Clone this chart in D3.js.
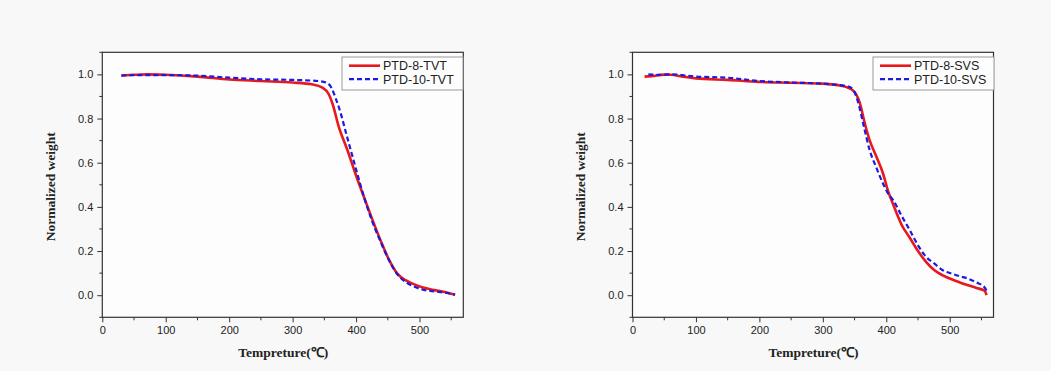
<!DOCTYPE html>
<html><head><meta charset="utf-8">
<script src="https://cdn.jsdelivr.net/npm/d3@7"></script>
<style>
body{margin:0;background:#f8f8f8;}
svg{display:block;}
text{fill:#222;}
</style></head>
<body><svg id="c" width="1051" height="371"></svg>
<script>
// ---- data ----
const xTicks = [0,100,200,300,400,500];
const yTicks = [0.0,0.2,0.4,0.6,0.8,1.0];
const xLabel = "Tempreture(℃)";
const yLabel = "Normalized weight";

const tvt8T = [30,50,70,100,150,200,250,300,330,347,357,363,373,386,399,413,426,439,452,465,478,491,504,517,530,543,556];
const tvt8W = [0.995,0.998,1.0,0.998,0.99,0.977,0.97,0.963,0.955,0.94,0.91,0.866,0.76,0.66,0.55,0.44,0.34,0.245,0.16,0.098,0.068,0.05,0.036,0.027,0.02,0.012,0.002];
const tvt10T = [30,60,100,150,200,250,300,340,355,362,368,373,386,399,413,426,439,452,465,478,491,504,517,530,543,556];
const tvt10W = [0.995,0.997,0.997,0.994,0.985,0.978,0.975,0.97,0.96,0.935,0.89,0.85,0.715,0.58,0.44,0.33,0.24,0.158,0.095,0.06,0.04,0.026,0.02,0.015,0.01,0.003];

const svs8T = [19,30,50,60,80,100,150,200,250,300,330,348,358,366,374,384,395,403,411,424,437,450,463,476,489,503,516,529,542,555,558];
const svs8W = [0.99,0.992,0.999,0.998,0.99,0.982,0.975,0.966,0.962,0.958,0.948,0.926,0.873,0.78,0.70,0.63,0.55,0.47,0.41,0.32,0.26,0.2,0.15,0.113,0.09,0.072,0.058,0.045,0.033,0.02,0.0];
const svs10T = [25,40,60,100,150,200,250,300,340,348,355,365,374,384,395,403,411,424,437,450,463,476,489,503,516,529,542,555,558];
const svs10W = [1.0,0.998,1.0,0.99,0.985,0.97,0.963,0.958,0.945,0.93,0.88,0.76,0.655,0.58,0.505,0.46,0.43,0.36,0.295,0.226,0.173,0.143,0.113,0.098,0.086,0.075,0.058,0.035,0.02];

const panels = [
  {left:102.3, series:[{name:"PTD-8-TVT",t:tvt8T,w:tvt8W,color:"#e8191d",dash:null,width:2.6},
                       {name:"PTD-10-TVT",t:tvt10T,w:tvt10W,color:"#1a1ae0",dash:"5,3",width:2.2}], legX:342},
  {left:632.5, series:[{name:"PTD-8-SVS",t:svs8T,w:svs8W,color:"#e8191d",dash:null,width:2.6},
                       {name:"PTD-10-SVS",t:svs10T,w:svs10W,color:"#1a1ae0",dash:"5,3",width:2.2}], legX:873}
];

const svg = d3.select("#c");
const W = 361, plotTop = 52.3, plotBottom = 317.3;

panels.forEach(p => {
  const x = d3.scaleLinear().domain([0,569]).range([p.left, p.left+W]);
  const y = d3.scaleLinear().domain([-0.1,1.1]).range([plotBottom, plotTop]);
  const g = svg.append("g");
  g.append("rect").attr("x",p.left).attr("y",plotTop).attr("width",W).attr("height",plotBottom-plotTop)
    .attr("fill","#fdfdfd").attr("stroke","#333").attr("stroke-width",1.2);

  // minor ticks
  const xMinor = d3.range(50,569,100);
  g.selectAll(".xm").data(xMinor).join("line")
    .attr("x1",d=>x(d)).attr("x2",d=>x(d)).attr("y1",plotBottom).attr("y2",plotBottom+3)
    .attr("stroke","#333");
  const yMinor = [-0.1,0.1,0.3,0.5,0.7,0.9,1.1];
  g.selectAll(".ym").data(yMinor).join("line")
    .attr("y1",d=>y(d)).attr("y2",d=>y(d)).attr("x1",p.left).attr("x2",p.left-3)
    .attr("stroke","#333");

  const xa = g.append("g").attr("transform",`translate(0,${plotBottom})`)
    .call(d3.axisBottom(x).tickValues(xTicks).tickSize(5).tickPadding(4).tickFormat(d3.format("d")));
  const ya = g.append("g").attr("transform",`translate(${p.left},0)`)
    .call(d3.axisLeft(y).tickValues(yTicks).tickSize(5).tickPadding(4).tickFormat(d3.format(".1f")));
  [xa,ya].forEach(a=>{
    a.select(".domain").remove();
    a.selectAll("line").attr("stroke","#333");
    a.selectAll("text").attr("font-family","Liberation Sans, Arial, sans-serif").attr("font-size",11).attr("fill","#222");
  });

  g.append("text").attr("x",p.left+181).attr("y",357)
    .attr("text-anchor","middle").attr("font-family","Liberation Serif, Times New Roman, serif")
    .attr("font-weight","bold").attr("font-size",13.5).text(xLabel);
  g.append("text").attr("transform",`translate(${p.left-47.5},${(plotTop+plotBottom)/2+2}) rotate(-90)`)
    .attr("text-anchor","middle").attr("font-family","Liberation Serif, Times New Roman, serif")
    .attr("font-weight","bold").attr("font-size",13.5).text(yLabel);

  const line = d3.line().x(d=>x(d[0])).y(d=>y(d[1])).curve(d3.curveMonotoneX);
  p.series.forEach(s => {
    g.append("path").datum(d3.zip(s.t,s.w)).attr("d",line)
      .attr("fill","none").attr("stroke",s.color).attr("stroke-width",s.width)
      .attr("stroke-dasharray",s.dash);
  });

  // legend
  const lg = g.append("g");
  lg.append("rect").attr("x",p.legX).attr("y",57).attr("width",121).attr("height",33)
    .attr("fill","#fdfdfd").attr("stroke","#999").attr("stroke-width",1);
  p.series.forEach((s,i)=>{
    const yy = 65.7 + i*13.5;
    lg.append("line").attr("x1",p.legX+7).attr("x2",p.legX+38).attr("y1",yy).attr("y2",yy)
      .attr("stroke",s.color).attr("stroke-width",s.width).attr("stroke-dasharray",s.dash);
    lg.append("text").attr("x",p.legX+41).attr("y",yy+4.3)
      .attr("font-family","Liberation Sans, Arial, sans-serif").attr("font-size",12.5).text(s.name);
  });
});
</script></body></html>
